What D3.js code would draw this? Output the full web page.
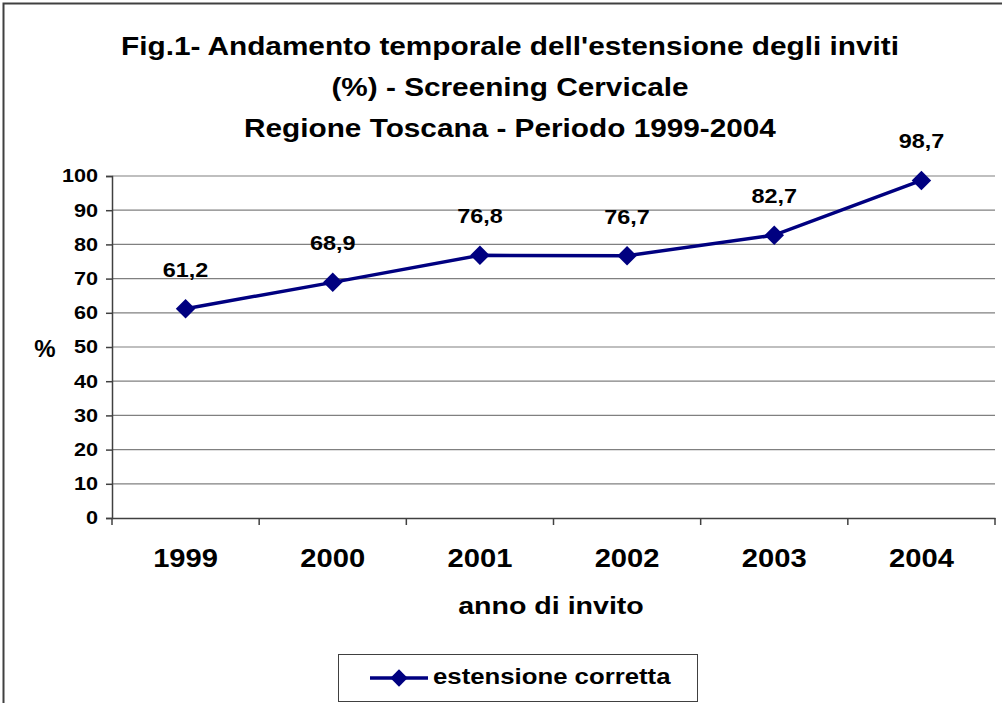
<!DOCTYPE html>
<html><head><meta charset="utf-8">
<script src="https://cdn.jsdelivr.net/npm/d3@7"></script>
<style>body{margin:0;background:#fff}svg{display:block}text{font-family:Arial,"Liberation Sans",sans-serif;font-weight:bold;fill:#000}</style>
</head><body>
<script>
const categories = ["1999","2000","2001","2002","2003","2004"];
const values = [61.2, 68.9, 76.8, 76.7, 82.7, 98.7];
const valueLabels = ["61,2","68,9","76,8","76,7","82,7","98,7"];
const yTicks = [0,10,20,30,40,50,60,70,80,90,100];
const titleLines = ["Fig.1- Andamento temporale dell'estensione degli inviti","(%) - Screening Cervicale","Regione Toscana - Periodo 1999-2004"];
const seriesName = "estensione corretta";

const W = 1002, H = 703;
const STRETCH = 1.17;
const svg = d3.select("body").append("svg").attr("width", W).attr("height", H);
svg.append("rect").attr("x",3.5).attr("y",3.5).attr("width",W+10).attr("height",H+10).attr("fill","none").attr("stroke","#404040").attr("stroke-width",2);

function stretch(sel, k){
  sel.each(function(){
    const len = this.getComputedTextLength();
    d3.select(this).attr("textLength", len*k).attr("lengthAdjust","spacingAndGlyphs");
  });
}

const L = 112, R = 995, T = 176, B = 518;
const x = d3.scaleBand().domain(categories).range([L, R]);
const y = d3.scaleLinear().domain([0,100]).range([B, T]);

// title
svg.append("g").selectAll("text").data(titleLines).join("text")
  .attr("x", 510).attr("y", (d,i)=>55+i*41).attr("text-anchor","middle").attr("font-size",25).text(d=>d)
  .call(stretch, 1.19);

// gridlines
svg.append("g").selectAll("line").data(yTicks.filter(d=>d>0)).join("line")
  .attr("x1",L).attr("x2",R).attr("y1",d=>y(d)).attr("y2",d=>y(d))
  .attr("stroke","#808080").attr("stroke-width",1.2);

// y axis
const yAxis = svg.append("g").attr("transform",`translate(${L},0)`)
  .call(d3.axisLeft(y).tickValues(yTicks).tickSize(6).tickPadding(8));
yAxis.select(".domain").attr("stroke","#404040").attr("stroke-width",1.5);
yAxis.selectAll(".tick line").attr("stroke","#404040").attr("stroke-width",1.5);
yAxis.selectAll(".tick text").attr("font-size",18.5).attr("font-family","Arial, 'Liberation Sans', sans-serif").attr("font-weight","bold").attr("fill","#000")
  .call(stretch, STRETCH);

// x axis
const xAxis = svg.append("g").attr("transform",`translate(0,${B})`)
  .call(d3.axisBottom(x).tickSize(0).tickPadding(30));
xAxis.select(".domain").attr("stroke","#404040").attr("stroke-width",1.5);
xAxis.selectAll(".tick text").attr("font-size",26.5).attr("font-family","Arial, 'Liberation Sans', sans-serif").attr("font-weight","bold").attr("fill","#000")
  .call(stretch, 1.1);
const bounds = categories.map(c=>x(c)).concat([R]);
svg.append("g").selectAll("line").data(bounds).join("line")
  .attr("x1",d=>d).attr("x2",d=>d).attr("y1",B).attr("y2",B+7)
  .attr("stroke","#404040").attr("stroke-width",1.5);

svg.append("text").attr("x",45).attr("y",357).attr("text-anchor","middle").attr("font-size",24).text("%");
svg.append("text").attr("x",551).attr("y",614).attr("text-anchor","middle").attr("font-size",24).text("anno di invito")
  .call(stretch, 1.19);

// line
const cx = d => x(d) + x.bandwidth()/2;
const line = d3.line().x((d,i)=>cx(categories[i])).y(d=>y(d));
svg.append("path").datum(values).attr("d",line).attr("fill","none").attr("stroke","#000080").attr("stroke-width",3.5);
svg.append("g").selectAll("path").data(values).join("path")
  .attr("d", d3.symbol().type(d3.symbolSquare).size(190))
  .attr("transform",(d,i)=>`translate(${cx(categories[i])},${y(d)}) rotate(45)`)
  .attr("fill","#000080");
svg.append("g").selectAll("text").data(values).join("text")
  .attr("x",(d,i)=>cx(categories[i])).attr("y",d=>y(d)-32)
  .attr("text-anchor","middle").attr("font-size",19.5).text((d,i)=>valueLabels[i])
  .call(stretch, 1.2);

// legend
const lg = svg.append("g");
lg.append("rect").attr("x",338.5).attr("y",654.5).attr("width",359).attr("height",47).attr("fill","#fff").attr("stroke","#404040").attr("stroke-width",1);
lg.append("line").attr("x1",370).attr("x2",428).attr("y1",678).attr("y2",678).attr("stroke","#000080").attr("stroke-width",3.5);
lg.append("path").attr("d", d3.symbol().type(d3.symbolSquare).size(150)).attr("transform","translate(399,678) rotate(45)").attr("fill","#000080");
lg.append("text").attr("x",433).attr("y",684).attr("font-size",22).text(seriesName)
  .call(stretch, 1.17);
</script>
</body></html>
